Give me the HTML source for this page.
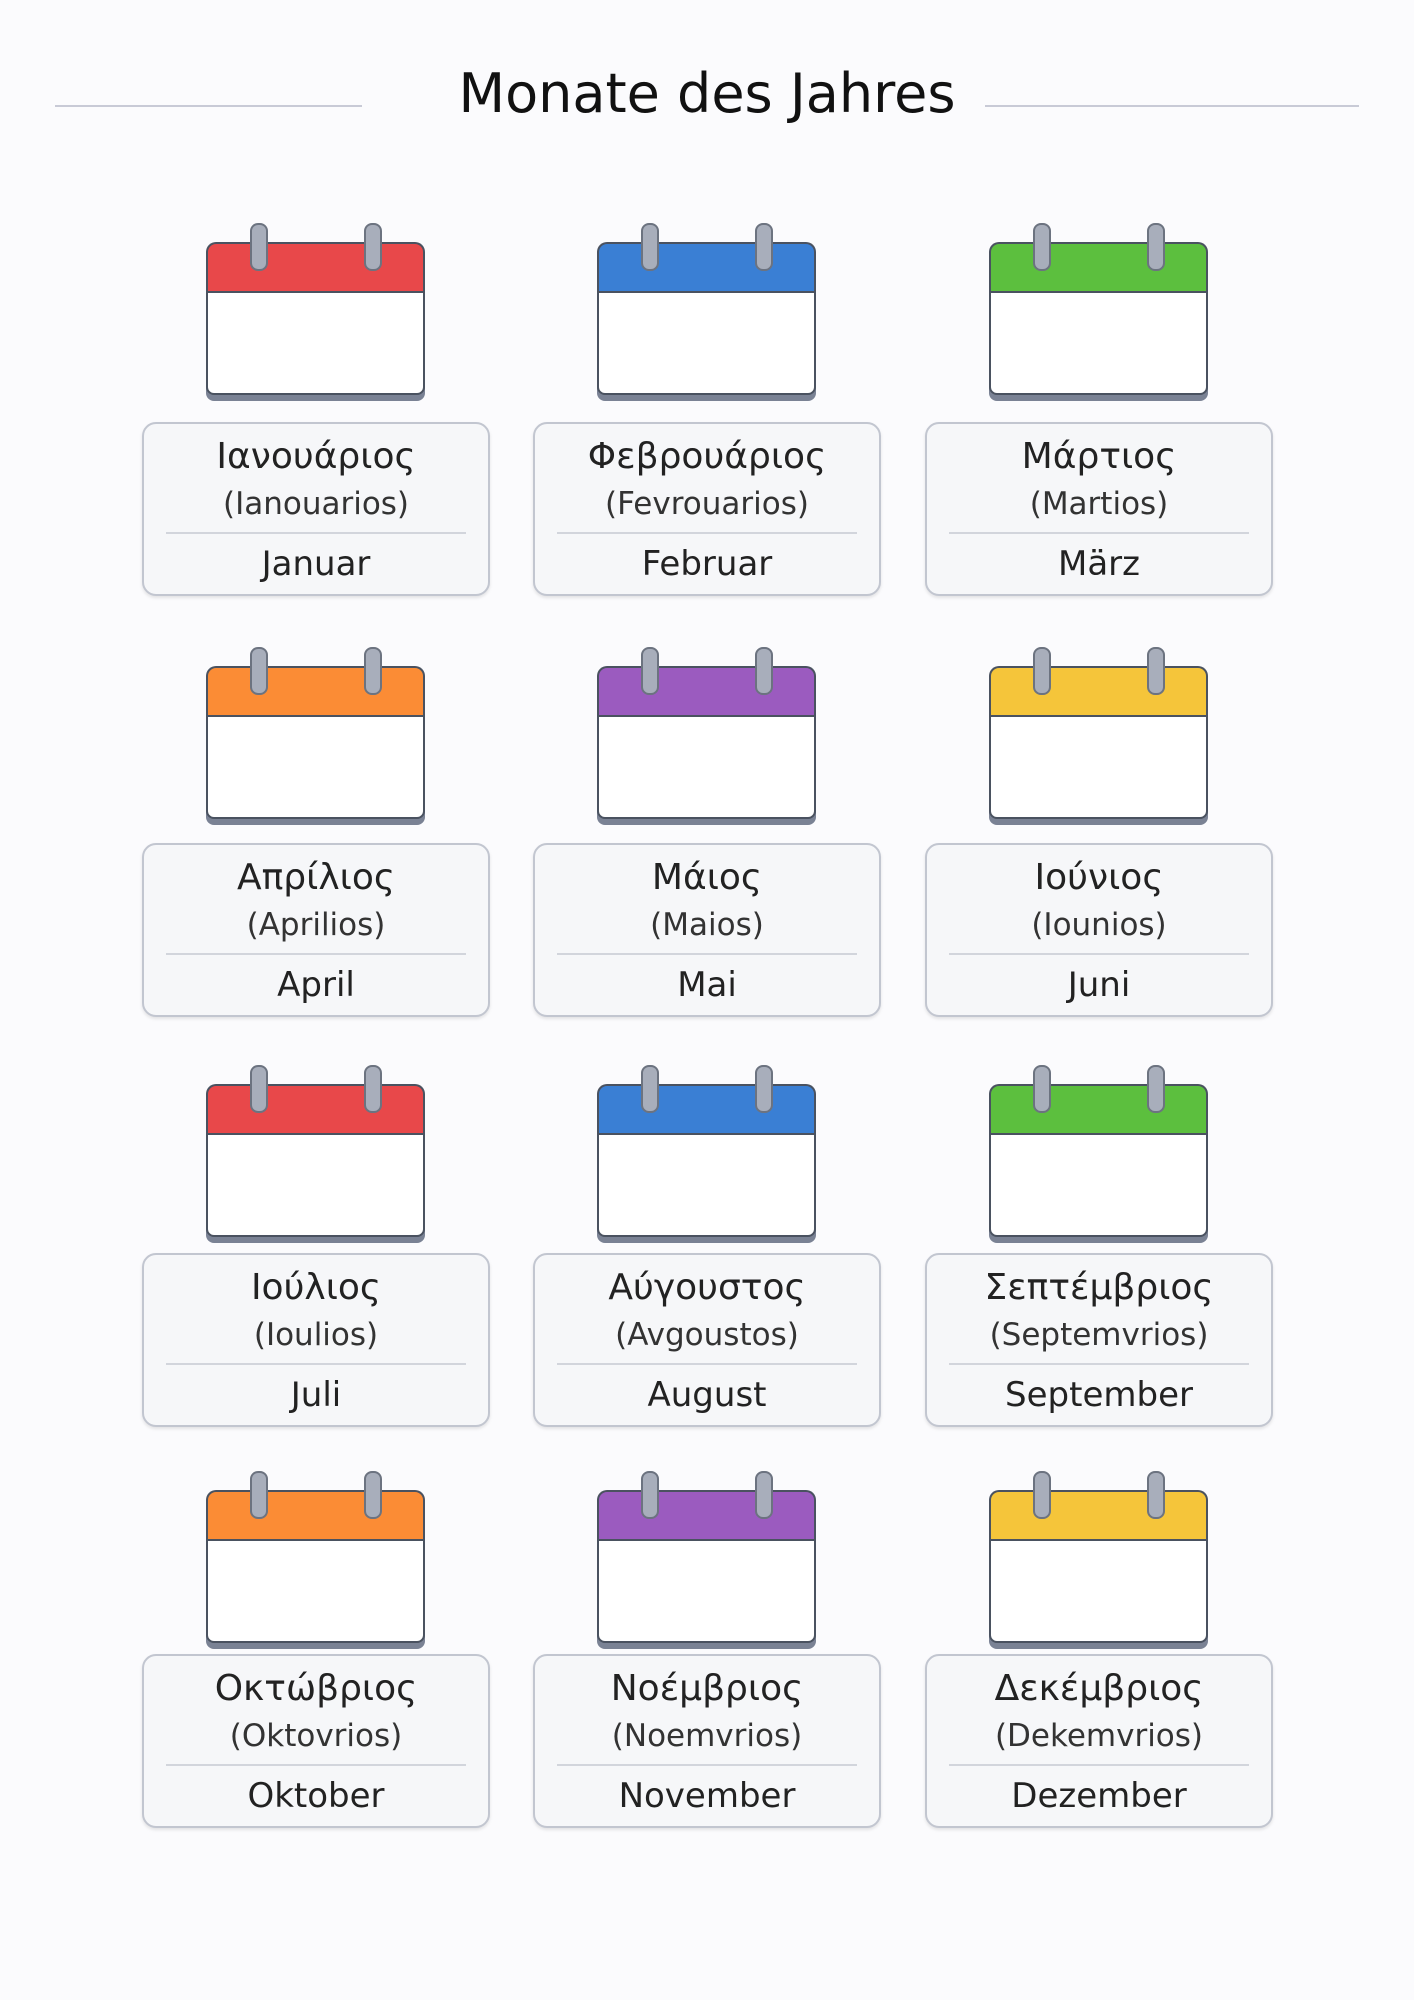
<!DOCTYPE html>
<html><head><meta charset="utf-8"><style>
body{margin:0;width:1414px;height:2000px;background:#fbfbfd;font-family:"DejaVu Sans","Liberation Sans",sans-serif;position:relative;overflow:hidden}
.title{position:absolute;left:0;width:1414px;top:62px;text-align:center;font-size:54px;color:#111;font-weight:400}
.hl{position:absolute;top:105px;height:2px;background:#c8cad6}
.cal{position:absolute;width:219px;height:175px}
.cal .hd{position:absolute;left:0;top:19px;width:215px;height:49px;border:2px solid #4a5260;border-bottom:none;border-radius:10px 10px 0 0}
.cal .bd{position:absolute;left:0;top:68px;width:215px;height:100px;border:2px solid #4a5260;border-top:2px solid #4a5260;background:#fff;border-radius:0 0 8px 8px;box-shadow:0 6px 0 #7a8294}
.cal .ring{position:absolute;top:0;width:14px;height:44px;background:#a8aebb;border:2px solid #6c7380;border-radius:8px}
.card{position:absolute;width:344px;height:170px;border:2px solid #c2c6d0;border-radius:14px;background:#f6f7f9;box-shadow:0 2px 3px rgba(0,0,0,.1);text-align:center;color:#222}
.card .g{position:absolute;top:12px;width:100%;font-size:36px}
.card .t{position:absolute;top:62px;width:100%;font-size:31px;color:#333}
.card .d{position:absolute;top:108px;left:22px;right:22px;height:2px;background:#d2d5dc}
.card .de{position:absolute;top:120px;width:100%;font-size:34px}
</style></head><body>
<div class="hl" style="left:55px;width:307px"></div>
<div class="hl" style="left:985px;width:374px"></div>
<div class="title">Monate des Jahres</div>
<script>
const data=[["Ιανουάριος","Ianouarios","Januar","#e8484a"],["Φεβρουάριος","Fevrouarios","Februar","#3a7fd4"],["Μάρτιος","Martios","März","#5cbf3e"],
["Απρίλιος","Aprilios","April","#fb8c35"],["Μάιος","Maios","Mai","#9b5bbf"],["Ιούνιος","Iounios","Juni","#f5c53a"],
["Ιούλιος","Ioulios","Juli","#e8484a"],["Αύγουστος","Avgoustos","August","#3a7fd4"],["Σεπτέμβριος","Septemvrios","September","#5cbf3e"],
["Οκτώβριος","Oktovrios","Oktober","#fb8c35"],["Νοέμβριος","Noemvrios","November","#9b5bbf"],["Δεκέμβριος","Dekemvrios","Dezember","#f5c53a"]];
const cx=[316,707,1099],ring=[223,647,1065,1471],ct=[422,843,1253,1654];
let h="";
data.forEach((d,i)=>{const r=Math.floor(i/3),c=i%3;const L=cx[c]-110;
h+=`<div class="cal" style="left:${L}px;top:${ring[r]}px"><div class="hd" style="background:${d[3]}"></div><div class="bd"></div><div class="ring" style="left:44px"></div><div class="ring" style="left:158px"></div></div>`;
h+=`<div class="card" style="left:${cx[c]-174}px;top:${ct[r]}px"><div class="g">${d[0]}</div><div class="t">(${d[1]})</div><div class="d"></div><div class="de">${d[2]}</div></div>`;});
document.write(h);
</script>
</body></html>
